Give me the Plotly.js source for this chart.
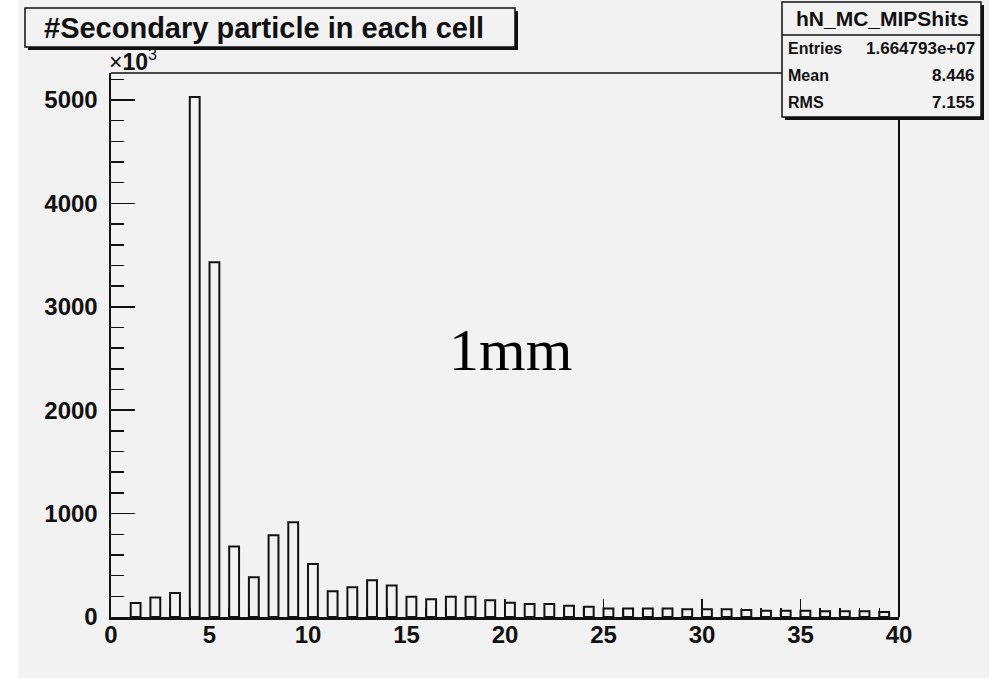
<!DOCTYPE html>
<html>
<head>
<meta charset="utf-8">
<script src="https://cdn.plot.ly/plotly-3.0.1.min.js"></script>
<style>html,body{margin:0;padding:0;background:#fff;}#chart{width:993px;height:682px;}</style>
</head>
<body>
<div id="chart"></div>
<script>
// Bin lower edges (number of secondary particles per cell)
var binEdges = [1,2,3,4,5,6,7,8,9,10,11,12,13,14,15,16,17,18,19,20,21,22,23,24,25,26,27,28,29,30,31,32,33,34,35,36,37,38,39];
// Counts in units of 10^3
var counts = [135,188,232,5030,3430,681,385,790,916,513,248,288,356,304,197,171,197,197,161,139,126,126,110,100,81,81,81,81,74,74,74,68,61,61,61,55,55,55,48];
var xTickVals = [0,5,10,15,20,25,30,35,40];
var yTickVals = [0,1000,2000,3000,4000,5000];
var titleText = "#Secondary particle in each cell";
var statsName = "hN_MC_MIPShits";
var statsLabels = ["Entries","Mean","RMS"];
var statsValues = ["1.664793e+07","8.446","7.155"];
var noteText = "1mm";

var L = 111, R = 899, T = 73, B = 617, W = 993, H = 682;
function px(x){return (x - L)/(R - L);}
function py(y){return (B - y)/(B - T);}
var BG = '#f2f2f2';
var FONT = 'Liberation Sans, Arial, sans-serif';

var trace = {
  type: 'bar',
  x: binEdges,
  y: counts,
  width: 0.5,
  offset: 0,
  marker: {color: 'rgba(0,0,0,0)', line: {color: '#111', width: 2}},
  hoverinfo: 'x+y'
};

var shapes = [
  // gray canvas
  {type:'rect', xref:'paper', yref:'paper', x0:px(18), x1:px(989), y0:py(678), y1:py(0), fillcolor:BG, line:{width:0}, layer:'below'},
  // frame top & right
  {type:'line', xref:'paper', yref:'paper', x0:0, x1:1, y0:1, y1:1, line:{color:'#111', width:1.5}},
  {type:'line', xref:'paper', yref:'paper', x0:1, x1:1, y0:0, y1:1, line:{color:'#111', width:2}},
  // title box shadow + box
  {type:'rect', xref:'paper', yref:'paper', x0:px(28), x1:px(518), y0:py(50), y1:py(11), fillcolor:'#111', line:{width:0}},
  {type:'rect', xref:'paper', yref:'paper', x0:px(25), x1:px(515), y0:py(47), y1:py(8), fillcolor:BG, line:{color:'#111', width:1.5}},
  // stats box shadow + box
  {type:'rect', xref:'paper', yref:'paper', x0:px(785), x1:px(984), y0:py(120), y1:py(5), fillcolor:'#111', line:{width:0}},
  {type:'rect', xref:'paper', yref:'paper', x0:px(782), x1:px(981), y0:py(117), y1:py(2), fillcolor:BG, line:{color:'#111', width:1.5}},
  {type:'line', xref:'paper', yref:'paper', x0:px(782), x1:px(981), y0:py(35), y1:py(35), line:{color:'#111', width:1.5}}
];

var annotations = [
  {xref:'paper', yref:'paper', x:px(42), y:py(28), xanchor:'left', yanchor:'middle', showarrow:false,
   text:titleText, font:{family:FONT, size:29, color:'#111', weight:700}},
  {xref:'paper', yref:'paper', x:px(882), y:py(19), xanchor:'center', yanchor:'middle', showarrow:false,
   text:statsName, font:{family:FONT, size:21, color:'#111', weight:700}},
  {xref:'paper', yref:'paper', x:px(107), y:py(60), xanchor:'left', yanchor:'middle', showarrow:false,
   text:'×<b>10</b><sup>3</sup>', font:{family:FONT, size:23, color:'#111'}},
  {xref:'paper', yref:'paper', x:px(510), y:py(350), xanchor:'center', yanchor:'middle', showarrow:false,
   text:noteText, font:{family:'Liberation Serif, Times New Roman, serif', size:60, color:'#000'}}
];
var rowY = [48, 76, 102];
for (var i = 0; i < statsLabels.length; i++) {
  annotations.push({xref:'paper', yref:'paper', x:px(786), y:py(rowY[i]), xanchor:'left', yanchor:'middle', showarrow:false,
    text:statsLabels[i], font:{family:FONT, size:16, color:'#111', weight:700}});
  annotations.push({xref:'paper', yref:'paper', x:px(977), y:py(rowY[i]), xanchor:'right', yanchor:'middle', showarrow:false,
    text:statsValues[i], font:{family:FONT, size:17, color:'#111', weight:700}});
}

var layout = {
  width: W, height: H,
  margin: {l: L, r: W - R, t: T, b: H - B, pad: 0},
  paper_bgcolor: '#ffffff',
  plot_bgcolor: BG,
  showlegend: false,
  bargap: 0,
  xaxis: {
    range: [0, 40], showgrid: false, zeroline: false,
    showline: true, linecolor: '#111', linewidth: 2.5,
    tickmode: 'array', tickvals: xTickVals, ticktext: xTickVals.map(String),
    ticks: 'inside', ticklen: 18, tickwidth: 1.5, tickcolor: '#111',
    minor: {dtick: 1, ticks: 'inside', ticklen: 9, tickwidth: 1.5, tickcolor: '#111', showgrid: false},
    tickfont: {family: FONT, size: 24, color: '#111', weight: 700},
    ticklabelstandoff: -5
  },
  yaxis: {
    range: [0, 5261], showgrid: false, zeroline: false,
    showline: true, linecolor: '#111', linewidth: 2.5,
    tickmode: 'array', tickvals: yTickVals, ticktext: yTickVals.map(String),
    ticks: 'inside', ticklen: 24, tickwidth: 1.5, tickcolor: '#111',
    minor: {dtick: 200, ticks: 'inside', ticklen: 13, tickwidth: 1.5, tickcolor: '#111', showgrid: false},
    tickfont: {family: FONT, size: 24, color: '#111', weight: 700},
    ticklabelstandoff: 6
  },
  shapes: shapes,
  annotations: annotations
};

Plotly.newPlot('chart', [trace], layout, {displayModeBar: false, staticPlot: true});
</script>
</body>
</html>
